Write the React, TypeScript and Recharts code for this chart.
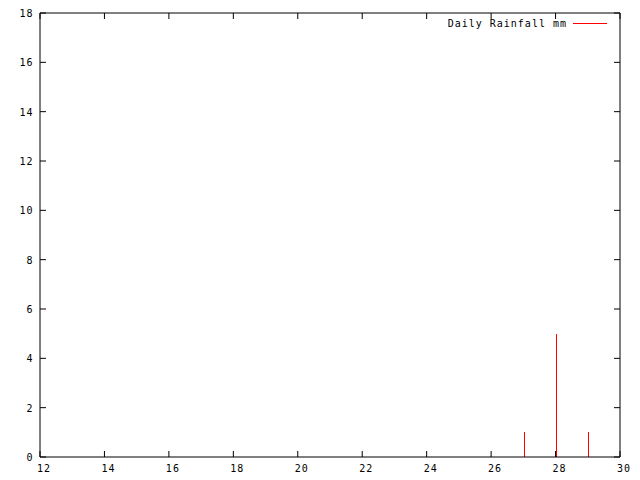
import React from 'react';
import { ComposedChart, Bar, Line, XAxis, YAxis, Legend } from 'recharts';

const days = [27, 28, 29];
const rainfall = [1, 5, 1];
const xTicks = [12, 14, 16, 18, 20, 22, 24, 26, 28, 30];
const yTicks = [0, 2, 4, 6, 8, 10, 12, 14, 16, 18];
const seriesName = 'Daily Rainfall mm';
const seriesColor = '#ff0000';

const data = days.map((d, i) => ({ day: d, rain: rainfall[i] }));

const FONT = '"DejaVu Sans Mono", monospace';
const FS = 10;
const LS = 1;

const XTick = (props: any) => {
  const { x, y, payload } = props;
  return (
    <text x={x + 4} y={y + 6.7} textAnchor="middle" fontFamily={FONT} fontSize={FS} letterSpacing={LS} fill="#000">
      {payload.value}
    </text>
  );
};

const YTick = (props: any) => {
  const { x, y, payload } = props;
  return (
    <text x={x} y={y + 4} textAnchor="end" fontFamily={FONT} fontSize={FS} letterSpacing={LS} fill="#000">
      {payload.value}
    </text>
  );
};

const NoTick = () => <g />;

const Impulse = (props: any) => {
  const { x, y, width, height } = props;
  const cx = Math.round(x + width / 2);
  return <rect x={cx} y={y} width={1} height={height} fill={seriesColor} stroke="none" shapeRendering="crispEdges" />;
};

const LegendContent = () => (
  <svg width={640} height={30} style={{ display: 'block' }}>
    <text x={567} y={26.5} textAnchor="end" fontFamily={FONT} fontSize={FS} letterSpacing={LS} fill="#000">
      {seriesName}
    </text>
    <line x1={573} x2={607} y1={23.5} y2={23.5} stroke={seriesColor} strokeWidth={1} />
  </svg>
);

export default function App() {
  return (
    <div style={{ position: 'absolute', left: 0, top: 0, width: 640, height: 480, background: '#fff' }}>
      <ComposedChart width={640} height={480} data={data} margin={{ top: 12, right: 19, bottom: 0, left: 0 }}>
        <XAxis
          dataKey="day"
          type="number"
          domain={[12, 30]}
          ticks={xTicks}
          allowDataOverflow
          height={23}
          tickSize={-6}
          tickMargin={14}
          tick={<XTick />}
          stroke="#000"
          interval={0}
        />
        <XAxis
          xAxisId="top"
          orientation="top"
          dataKey="day"
          type="number"
          domain={[12, 30]}
          ticks={xTicks}
          allowDataOverflow
          height={1}
          tickSize={-6}
          tick={<NoTick />}
          stroke="#000"
          interval={0}
        />
        <YAxis
          type="number"
          domain={[0, 18]}
          ticks={yTicks}
          allowDataOverflow
          width={40}
          tickSize={-6}
          tickMargin={12.5}
          tick={<YTick />}
          stroke="#000"
          interval={0}
        />
        <YAxis
          yAxisId="right"
          orientation="right"
          type="number"
          domain={[0, 18]}
          ticks={yTicks}
          allowDataOverflow
          width={1}
          tickSize={-6}
          tick={<NoTick />}
          stroke="#000"
          interval={0}
        />
        <Legend
          layout="horizontal"
          verticalAlign="middle"
          align="center"
          wrapperStyle={{ top: 0, left: 0, width: 640, height: 30 }}
          content={<LegendContent />}
        />
        <Bar dataKey="rain" name={seriesName} fill={seriesColor} barSize={1} shape={<Impulse />} isAnimationActive={false} />
        <Line
          xAxisId="top"
          yAxisId="right"
          dataKey="rain"
          stroke="none"
          dot={false}
          activeDot={false}
          legendType="none"
          isAnimationActive={false}
        />
      </ComposedChart>
    </div>
  );
}
